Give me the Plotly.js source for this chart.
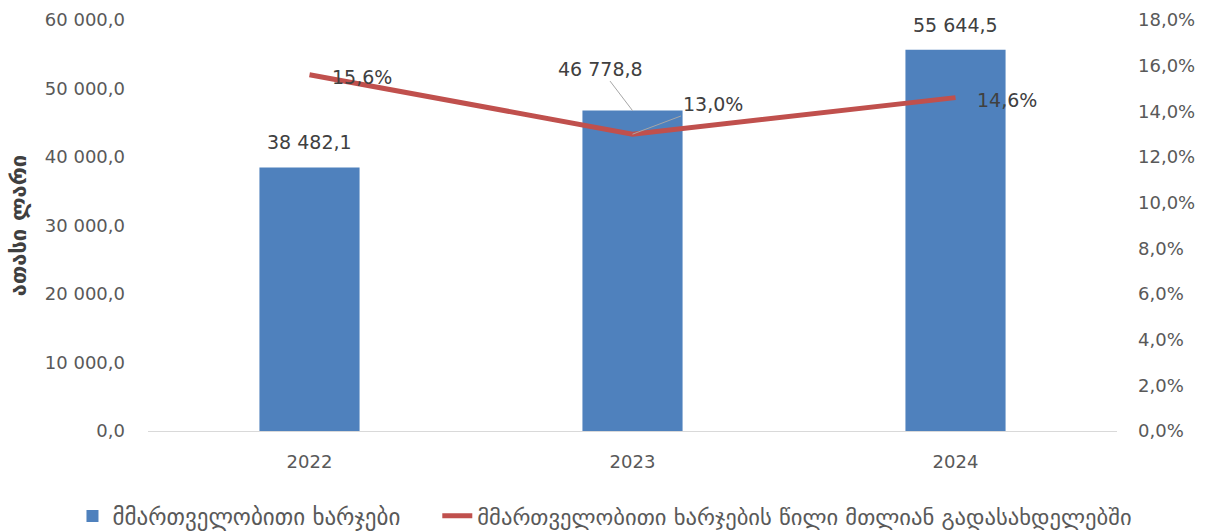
<!DOCTYPE html>
<html>
<head>
<meta charset="utf-8">
<script src="https://cdn.plot.ly/plotly-3.0.1.min.js"></script>
<style>html,body{margin:0;padding:0;background:#fff;}#chart{width:1208px;height:531px;}</style>
</head>
<body>
<div id="chart"></div>
<script>
var years = ['2022', '2023', '2024'];
var expenses = [38482.1, 46778.8, 55644.5];
var sharePct = [15.6, 13.0, 14.6];
var barName = 'მმართველობითი ხარჯები';
var lineName = 'მმართველობითი ხარჯების წილი მთლიან გადასახდელებში';
var yTitle = 'ათასი ლარი';

function fmtNum(v) {
  var s = v.toFixed(1).split('.');
  var intPart = s[0].replace(/\B(?=(\d{3})+(?!\d))/g, ' ');
  return intPart + ',' + s[1];
}
function fmtPct(v) { return v.toFixed(1).replace('.', ',') + '%'; }

var fam = 'DejaVu Sans, sans-serif';
var font = {family: fam, size: 18, color: '#595959'};
var labelFont = {family: fam, size: 19, color: '#404040'};
var legendFont = {family: fam, size: 23, color: '#595959'};

var traces = [
  {type: 'bar', x: years, y: expenses, name: barName, marker: {color: '#4F81BD'}, yaxis: 'y', legend: 'legend'},
  {type: 'scatter', mode: 'lines', x: years, y: sharePct, name: lineName, yaxis: 'y2', legend: 'legend2',
   line: {color: '#C0504D', width: 5}}
];

// label offsets (pixels) for each label: [ax, ay, leader line]
var barOff = [[0, -25, false], [-32, -42, true], [0, -25, false]];
var lineOff = [[52, 2, false], [80, -30, true], [51, 2, false]];
var annotations = [];
for (var i = 0; i < years.length; i++) {
  annotations.push({
    x: i, y: expenses[i], xref: 'x', yref: 'y',
    text: fmtNum(expenses[i]), font: labelFont,
    showarrow: true, arrowhead: 0, arrowwidth: 1, arrowcolor: barOff[i][2] ? '#A6A6A6' : 'rgba(0,0,0,0)',
    ax: barOff[i][0], ay: barOff[i][1], standoff: 0
  });
  annotations.push({
    x: i, y: sharePct[i], xref: 'x', yref: 'y2',
    text: fmtPct(sharePct[i]), font: labelFont,
    showarrow: true, arrowhead: 0, arrowwidth: 1, arrowcolor: lineOff[i][2] ? '#A6A6A6' : 'rgba(0,0,0,0)',
    ax: lineOff[i][0], ay: lineOff[i][1], standoff: 0
  });
}

var layout = {
  width: 1208, height: 531,
  margin: {l: 148, r: 91, t: 20, b: 100, autoexpand: false},
  paper_bgcolor: '#fff', plot_bgcolor: '#fff',
  separators: ', ',
  font: font,
  bargap: 0.69,
  showlegend: true,
  legend: {orientation: 'h', xref: 'container', yref: 'container', x: 0.06, y: 0.028,
           xanchor: 'left', yanchor: 'middle', font: legendFont, bgcolor: 'rgba(0,0,0,0)'},
  legend2: {orientation: 'h', xref: 'container', yref: 'container', x: 0.362, y: 0.028,
           xanchor: 'left', yanchor: 'middle', font: {family: fam, size: 22.6, color: '#595959'}, bgcolor: 'rgba(0,0,0,0)'},
  xaxis: {type: 'category', range: [-0.5, 2.5], showline: true, linecolor: '#D9D9D9', linewidth: 1, ticks: '',
          tickfont: font, showgrid: false, zeroline: false, ticklabelstandoff: 14},
  yaxis: {range: [0, 60000], dtick: 10000, tickformat: ',.1f', showgrid: false, zeroline: false,
          showline: false, ticks: '', tickfont: font, ticklabelstandoff: 22,
          title: {text: yTitle, font: {family: fam, size: 22, color: '#404040', weight: 'bold'}, standoff: 12}},
  yaxis2: {range: [0, 18], dtick: 2, tickformat: '.1f', ticksuffix: '%', overlaying: 'y', side: 'right',
           showgrid: false, zeroline: false, showline: false, ticks: '', tickfont: font, ticklabelstandoff: 20},
  annotations: annotations
};

Plotly.newPlot('chart', traces, layout, {displayModeBar: false, staticPlot: true});
</script>
</body>
</html>
